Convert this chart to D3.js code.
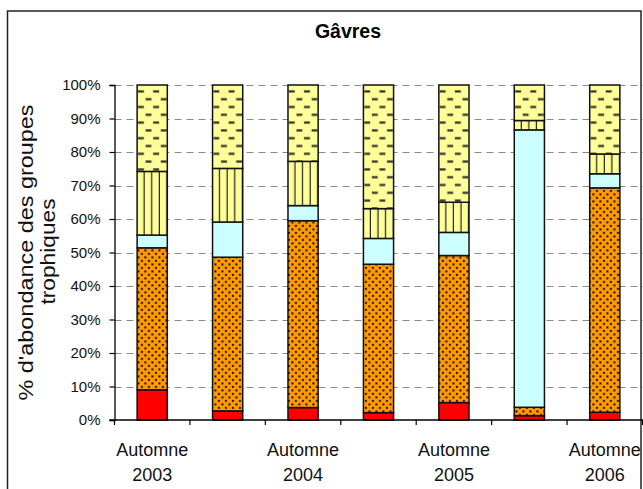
<!DOCTYPE html>
<html>
<head>
<meta charset="utf-8">
<script src="https://cdn.jsdelivr.net/npm/d3@7"></script>
<style>
  html, body { margin: 0; padding: 0; background: #fff; }
  svg { display: block; font-family: Arial, "Liberation Sans", sans-serif; }
</style>
</head>
<body>
<div id="chart"></div>
<script>
// Seasons along the x axis (only every other one carries a label)
const periods = [0, 1, 2, 3, 4, 5, 6];
const periodLabels = [["Automne", "2003"], null, ["Automne", "2004"], null, ["Automne", "2005"], null, ["Automne", "2006"]];

// Trophic group shares (%) per season, bottom to top of each column
const groupRed    = [9.0, 2.7, 3.7, 2.2, 5.2, 1.3, 2.3];
const groupOrange = [42.4, 45.9, 55.8, 44.3, 43.9, 2.5, 67.0];
const groupCyan   = [3.8, 10.5, 4.5, 7.7, 6.9, 82.8, 4.2];
const groupStripe = [19.0, 16.0, 13.2, 8.9, 9.0, 2.8, 5.9];
const groupDash   = [25.8, 24.9, 22.8, 36.9, 35.0, 10.6, 20.6];

const yTicks = [0, 10, 20, 30, 40, 50, 60, 70, 80, 90, 100];
const title = "Gâvres";
const yTitle = ["% d'abondance des groupes", "trophiques"];

const W = 643, H = 489;
const plot = { left: 114.5, right: 642.5, top: 85, bottom: 420 };

const svg = d3.select("#chart").append("svg")
  .attr("width", W).attr("height", H);
const defs = svg.append("defs");

// Outer frame
svg.append("rect")
  .attr("x", 7.5).attr("y", 11).attr("width", 633.5).attr("height", 500)
  .attr("fill", "#fff").attr("stroke", "#222").attr("stroke-width", 1.5);

const x = d3.scaleBand().domain(periods).range([plot.left, plot.right]).paddingInner(0.6).paddingOuter(0.3);
const y = d3.scaleLinear().domain([0, 100]).range([plot.bottom, plot.top]);

// Table for the stack
const keys = ["red", "orange", "cyan", "stripe", "dash"];
const table = periods.map(i => ({
  i,
  red: groupRed[i], orange: groupOrange[i], cyan: groupCyan[i],
  stripe: groupStripe[i], dash: groupDash[i]
}));
const stacked = d3.stack().keys(keys)(table);

// Dotted orange fill
const dots = defs.append("pattern").attr("id", "dots")
  .attr("patternUnits", "userSpaceOnUse").attr("width", 7).attr("height", 7);
dots.append("rect").attr("width", 7).attr("height", 7).attr("fill", "#FF9900");
[[1, 1], [4.5, 4.5]].forEach(([px, py]) => {
  dots.append("rect").attr("x", px - 0.4).attr("y", py - 0.4).attr("width", 2.6).attr("height", 2.6)
    .attr("fill", "#8a5200").attr("opacity", 0.45);
  dots.append("rect").attr("x", px).attr("y", py).attr("width", 1.8).attr("height", 1.8)
    .attr("fill", "#241505");
});

// Per-column patterns so stripes and dashes line up with each column edge
periods.forEach(i => {
  const bx = x(i);
  const st = defs.append("pattern").attr("id", "stripe" + i)
    .attr("patternUnits", "userSpaceOnUse").attr("x", bx).attr("y", 0)
    .attr("width", 7.6).attr("height", 10);
  st.append("rect").attr("width", 7.6).attr("height", 10).attr("fill", "#FFFF99");
  st.append("rect").attr("x", 6.4).attr("y", 0).attr("width", 2.4).attr("height", 10).attr("fill", "#222");

  const ds = defs.append("pattern").attr("id", "dash" + i)
    .attr("patternUnits", "userSpaceOnUse").attr("x", bx).attr("y", plot.top + 4)
    .attr("width", 15.2).attr("height", 15.6);
  ds.append("rect").attr("width", 15.2).attr("height", 15.6).attr("fill", "#FFFF99");
  ds.append("rect").attr("x", 0.5).attr("y", 1).attr("width", 6.6).attr("height", 2.8).attr("fill", "#8a8a50").attr("opacity", 0.5);
  ds.append("rect").attr("x", 1).attr("y", 1.4).attr("width", 5.6).attr("height", 2).attr("fill", "#33332a");
  ds.append("rect").attr("x", 8.1).attr("y", 8.8).attr("width", 6.6).attr("height", 2.8).attr("fill", "#8a8a50").attr("opacity", 0.5);
  ds.append("rect").attr("x", 8.6).attr("y", 9.2).attr("width", 5.6).attr("height", 2).attr("fill", "#33332a");
});

// Gridlines
svg.append("g").selectAll("line").data(yTicks.filter(t => t > 0)).join("line")
  .attr("x1", plot.left).attr("x2", W)
  .attr("y1", d => Math.round(y(d)) + 0.5).attr("y2", d => Math.round(y(d)) + 0.5)
  .attr("stroke", "#8a8a8a").attr("stroke-width", 1).attr("stroke-dasharray", "7,5");

// Chart title
svg.append("text").attr("x", 348).attr("y", 37.5).attr("text-anchor", "middle")
  .attr("font-size", 19.5).attr("font-weight", "bold").attr("fill", "#000").text(title);

// Stacked columns
const fillFor = (key, i) => {
  if (key === "red") return "#FF0000";
  if (key === "orange") return "url(#dots)";
  if (key === "cyan") return "#CCFFFF";
  if (key === "stripe") return "url(#stripe" + i + ")";
  return "url(#dash" + i + ")";
};
stacked.forEach(layer => {
  svg.append("g").selectAll("rect").data(layer).join("rect")
    .attr("x", d => x(d.data.i))
    .attr("width", x.bandwidth())
    .attr("y", d => y(d[1]))
    .attr("height", d => y(d[0]) - y(d[1]))
    .attr("fill", d => fillFor(layer.key, d.data.i))
    .attr("stroke", "#111").attr("stroke-width", 1.5);
});

// Y axis
const yAxis = d3.axisLeft(y).tickValues(yTicks).tickFormat(d => d + "%").tickSize(5).tickPadding(9);
const gy = svg.append("g").attr("transform", `translate(${plot.left},0)`).call(yAxis);
gy.select(".domain").attr("stroke", "#000").attr("stroke-width", 1.3);
gy.selectAll(".tick line").attr("stroke", "#000").attr("stroke-width", 1.2);
gy.selectAll(".tick text").attr("font-size", 15).attr("font-family", "Arial, 'Liberation Sans', sans-serif").attr("fill", "#111");

// X axis: ticks on the boundaries between seasons
const step = x.step();
const boundaries = d3.range(periods.length + 1).map(k => plot.left + k * step);
svg.append("line").attr("x1", plot.left - 5).attr("x2", W)
  .attr("y1", plot.bottom).attr("y2", plot.bottom).attr("stroke", "#000").attr("stroke-width", 1.3);
svg.append("g").selectAll("line").data(boundaries).join("line")
  .attr("x1", d => d).attr("x2", d => d)
  .attr("y1", plot.bottom).attr("y2", plot.bottom + 5)
  .attr("stroke", "#000").attr("stroke-width", 1.2);

const xl = svg.append("g").attr("font-size", 18).attr("fill", "#111").attr("text-anchor", "middle");
periods.forEach(i => {
  const lab = periodLabels[i];
  if (!lab) return;
  const cx = x(i) + x.bandwidth() / 2;
  xl.append("text").attr("x", cx).attr("y", 456).text(lab[0]);
  xl.append("text").attr("x", cx).attr("y", 481).text(lab[1]);
});

// Y axis title (two lines)
const yc = (plot.top + plot.bottom) / 2;
svg.append("text").attr("transform", `translate(33,${yc}) rotate(-90)`)
  .attr("text-anchor", "middle").attr("font-size", 20).attr("fill", "#111")
  .attr("textLength", 296).attr("lengthAdjust", "spacingAndGlyphs").text(yTitle[0]);
svg.append("text").attr("transform", `translate(55,${yc - 1}) rotate(-90)`)
  .attr("text-anchor", "middle").attr("font-size", 20).attr("fill", "#111")
  .attr("textLength", 106).attr("lengthAdjust", "spacingAndGlyphs").text(yTitle[1]);
</script>
</body>
</html>
